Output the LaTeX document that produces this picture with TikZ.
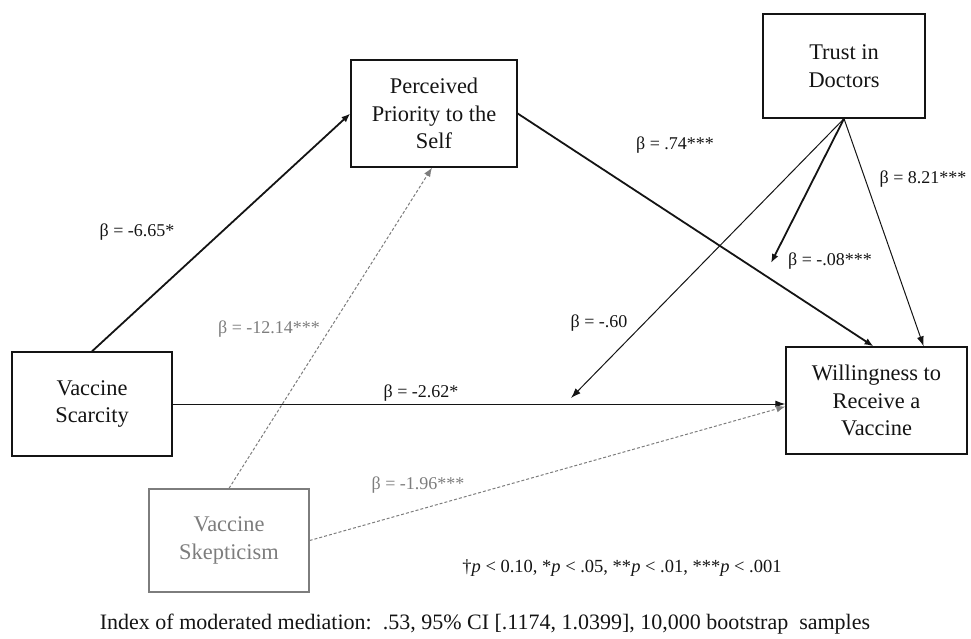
\documentclass[tikz,border=0pt]{standalone}
\usepackage{fontspec}
\setmainfont{Liberation Serif}
\usetikzlibrary{arrows.meta}
\definecolor{grayc}{RGB}{125,125,125}
\definecolor{ink}{RGB}{20,20,20}
\begin{document}
\begin{tikzpicture}[x=1pt,y=-1pt,
  box/.style={draw=ink, line width=1.3pt, align=center, text=ink,
    font=\fontsize{22.4}{27.5}\selectfont, inner sep=0pt},
  graybox/.style={box, draw=grayc, text=grayc},
  lbl/.style={font=\fontsize{18}{22}\selectfont, text=ink, inner sep=1pt},
  glbl/.style={lbl, text=grayc},
  thick arr/.style={draw=ink, line width=1.8pt, -{Latex[length=9pt,width=7pt]}},
  thin arr/.style={draw=ink, line width=1pt, -{Latex[length=10pt,width=7pt]}},
  dash arr/.style={draw=grayc, line width=1pt, dash pattern=on 3pt off 2pt, -{Latex[length=9pt,width=7pt]}}
]
\useasboundingbox (0,0) rectangle (971,639);

\node[box, minimum width=166pt, minimum height=107pt] (perc) at (434,113.5)
  {Perceived\\Priority to the\\Self};
\node[box, minimum width=162pt, minimum height=104pt] (trust) at (844,66)
  {Trust in\\Doctors};
\node[box, minimum width=181pt, minimum height=107pt] (will) at (876.5,400.5)
  {Willingness to\\Receive a\\Vaccine};
\node[box, minimum width=160pt, minimum height=104pt] (scar) at (92,404)
  {Vaccine\\Scarcity};
\node[graybox, minimum width=160pt, minimum height=103pt] (skep) at (229,540.5)
  {Vaccine\\Skepticism};

\coordinate (m1) at (571,398);
\coordinate (m2) at (771,263);

\draw[thick arr] (scar.north) -- (perc.west);
\draw[thick arr] (perc.east) -- ([xshift=-3pt]will.north);
\draw[thin arr] (scar.east) -- (scar.east -| will.west);
\draw[dash arr] (skep.north) -- ([xshift=-2pt]perc.south);
\draw[dash arr] (skep.east) -- ([yshift=-6pt]will.west);
\draw[thin arr] (trust.south) -- (m1);
\draw[thick arr] (trust.south) -- (m2);
\draw[thin arr] (trust.south) -- ([xshift=-44pt]will.north east);

\node[lbl] (l1) at (137,232) {β = -6.65*};
\node[lbl] (l2) at (675,145) {β = .74***};
\node[lbl] (l3) at (923,179) {β = 8.21***};
\node[lbl] (l4) at (830,261) {β = -.08***};
\node[lbl] (l5) at (599,323) {β = -.60};
\node[lbl] (l6) at (421,393) {β = -2.62*};
\node[glbl] (l7) at (269,329) {β = -12.14***};
\node[glbl] (l8) at (418,485) {β = -1.96***};

\node[lbl, font=\fontsize{18.5}{22}\selectfont] (legend) at (622,568)
  {†\textit{p} < 0.10, *\textit{p} < .05, **\textit{p} < .01, ***\textit{p} < .001};
\node[lbl, font=\fontsize{22}{26}\selectfont] (index) at (485,624)
  {Index of moderated mediation:\ \ .53, 95\% CI [.1174, 1.0399], 10,000 bootstrap\ \ samples};
\end{tikzpicture}
\end{document}
